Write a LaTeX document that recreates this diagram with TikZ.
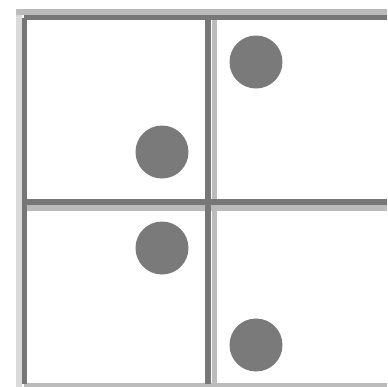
\documentclass[tikz,border=0pt]{standalone}
\usetikzlibrary{positioning}
\definecolor{rule}{HTML}{777777}
\definecolor{ruleshade}{HTML}{BBBBBB}
\definecolor{ruleshadelt}{HTML}{DADADA}
\definecolor{dotgray}{HTML}{7A7A7A}
\tikzset{
  rulebar/.style  ={draw=rule, line width=3.2pt},
  shadebar/.style ={draw=ruleshade, line width=3.2pt},
  marker/.style   ={circle, fill=dotgray, draw=none, minimum size=1.06cm, inner sep=0pt}
}
\begin{document}
\begin{tikzpicture}[x=0.02cm,y=-0.02cm]
\useasboundingbox (0,0) rectangle (387,387);
\fill[white] (0,0) rectangle (387,387);

%% ---- frame corners -------------------------------------------------
\coordinate (tl) at (24.5,17.5);
\coordinate (tr) at (387,17.5);
\coordinate (bl) at (24.5,387);
\coordinate (br) at (387,387);
\coordinate (mt) at (208,17.5);
\coordinate (mb) at (208,387);
\coordinate (ml) at (24.5,202);
\coordinate (mr) at (387,202);

%% ---- shading next to the rules -------------------------------------
\draw[shadebar, draw=ruleshadelt] ([shift={(-5.5,-8)}]tl) -- ([shift={(-5.5,0)}]bl);
\draw[shadebar] ([shift={(-8,-5.5)}]tl) -- ([shift={(0,-5.5)}]tr);
\draw[shadebar] ([shift={(6.5,0)}]mt) -- ([shift={(6.5,0)}]mb);
\draw[shadebar] ([shift={(0,6)}]ml) -- ([shift={(0,6)}]mr);
\draw[shadebar] (24.5,385.5) -- (387,385.5);

%% ---- grid rules ----------------------------------------------------
\draw[rulebar] (tl) -- (tr);
\draw[rulebar] (tl) -- (24.5,384);
\draw[rulebar] (mt) -- (208,384);
\draw[rulebar] (ml) -- (mr);

%% ---- dots ----------------------------------------------------------
\node[marker] (dotA) at (256,62) {};
\node[marker] (dotB) at (162,152) {};
\node[marker] (dotC) at (162,248) {};
\node[marker] (dotD) at (256,345) {};
\end{tikzpicture}
\end{document}
